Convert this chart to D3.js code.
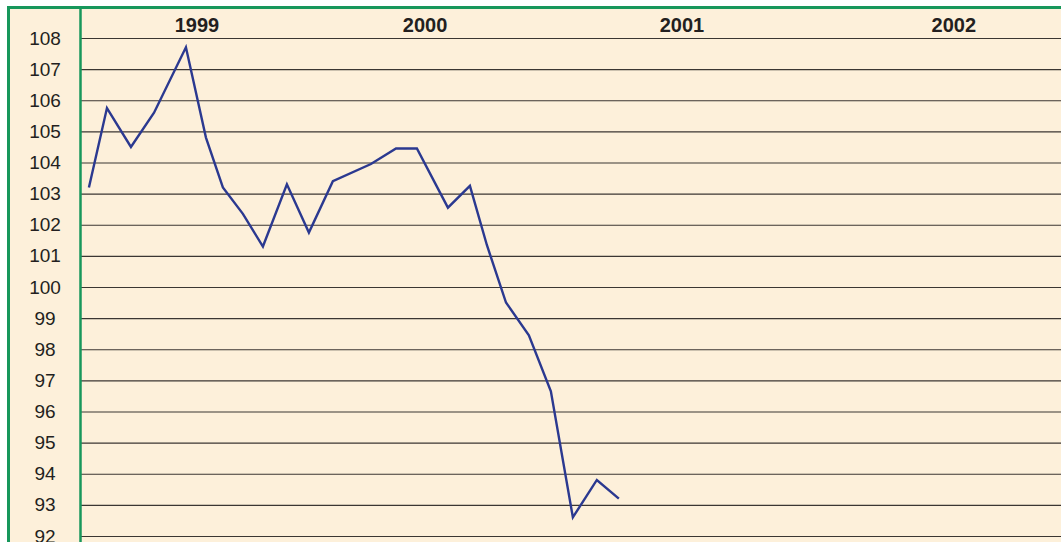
<!DOCTYPE html>
<html>
<head>
<meta charset="utf-8">
<script src="https://cdn.jsdelivr.net/npm/d3@7"></script>
<style>
  html, body { margin: 0; padding: 0; background: #fff; }
  svg { display: block; font-family: "Liberation Sans", Arial, sans-serif; }
</style>
</head>
<body>
<svg id="chart" width="1061" height="542"></svg>
<script>
// months since start of 1999
var months = [0.36, 1.18, 2.27, 3.32, 4.77, 5.68, 6.45, 7.36, 8.27, 9.36, 10.36, 11.45,
	13.18, 14.32, 15.27, 16.68, 17.68, 18.45, 19.32, 20.36, 21.36, 22.36, 23.45, 24.45];
var values = [103.2, 105.75, 104.5, 105.6, 107.7, 104.8, 103.2, 102.35, 101.3, 103.3, 101.75, 103.4,
	103.95, 104.45, 104.45, 102.55, 103.25, 101.35, 99.5, 98.45, 96.65, 92.6, 93.8, 93.2];
var yearLabels = ["1999", "2000", "2001", "2002"];
var yearPos = [5.27, 15.64, 27.32, 39.68];
var yTicks = d3.range(92, 109);

var W = 1061, H = 542;
var svg = d3.select("#chart");

var x = d3.scaleLinear().domain([0, 44.55]).range([81, W]);
var y = d3.scaleLinear().domain([92, 108]).range([536, 38]);

// background
svg.append("rect")
	.attr("x", 7).attr("y", 6)
	.attr("width", W - 7).attr("height", H - 6)
	.attr("fill", "#fdf0da");

// grid lines
var grid = svg.append("g")
	.attr("transform", "translate(81,0)")
	.call(d3.axisLeft(y).tickValues(yTicks).tickSize(-(W - 81)).tickFormat(""));
grid.select(".domain").remove();
grid.selectAll("line").attr("stroke", "#3b3632").attr("stroke-width", 1.2);

// y labels
var yl = svg.append("g")
	.attr("transform", "translate(45,0)")
	.call(d3.axisLeft(y).tickValues(yTicks).tickSize(0).tickPadding(0));
yl.select(".domain").remove();
yl.selectAll("text")
	.attr("text-anchor", "middle")
	.attr("fill", "#231f20")
	.style("font-size", "19px")
	.style("font-family", "Liberation Sans, Arial, sans-serif");

// year labels
svg.selectAll(".year")
	.data(yearLabels)
	.enter().append("text")
	.attr("class", "year")
	.attr("x", function(d, i) { return x(yearPos[i]); })
	.attr("y", 32)
	.attr("text-anchor", "middle")
	.attr("font-weight", "bold")
	.attr("font-size", "20px")
	.attr("fill", "#231f20")
	.text(function(d) { return d; });

// frame lines
svg.append("line")
	.attr("x1", 7).attr("x2", W).attr("y1", 7.5).attr("y2", 7.5)
	.attr("stroke", "#17975b").attr("stroke-width", 3);
svg.append("line")
	.attr("x1", 8.5).attr("x2", 8.5).attr("y1", 6).attr("y2", H)
	.attr("stroke", "#17975b").attr("stroke-width", 3);
svg.append("line")
	.attr("x1", 80.5).attr("x2", 80.5).attr("y1", 6).attr("y2", H)
	.attr("stroke", "#17975b").attr("stroke-width", 2.5);

// data line
var line = d3.line()
	.x(function(d, i) { return x(months[i]); })
	.y(function(d) { return y(d); });

svg.append("path")
	.datum(values)
	.attr("d", line)
	.attr("fill", "none")
	.attr("stroke", "#2b3990")
	.attr("stroke-width", 2.4)
	.attr("stroke-linejoin", "miter");
</script>
</body>
</html>
